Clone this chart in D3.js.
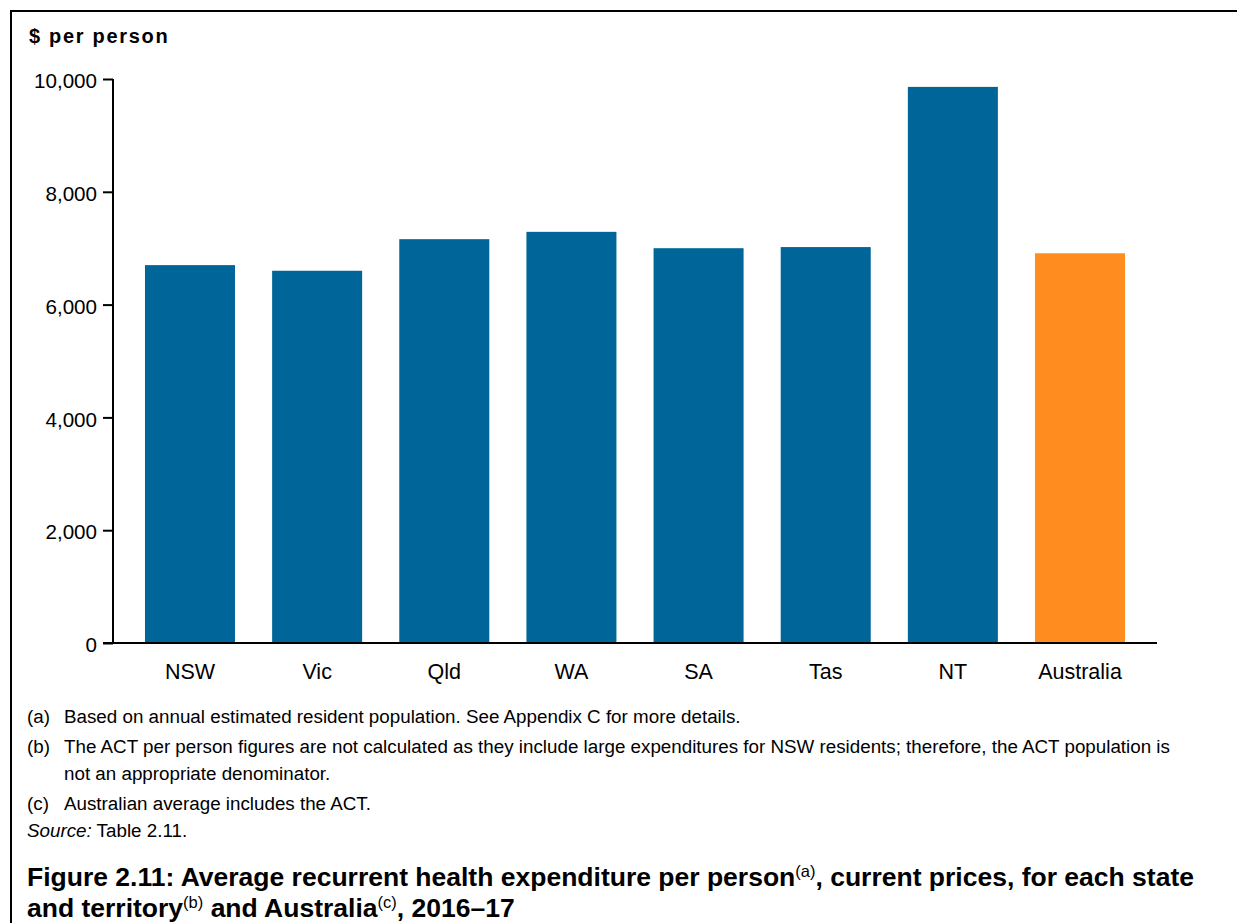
<!DOCTYPE html>
<html><head><meta charset="utf-8">
<script src="https://cdn.jsdelivr.net/npm/d3@7/dist/d3.min.js"></script>
<style>body{margin:0;background:#fff}svg{display:block;font-family:Arial,"Liberation Sans",sans-serif}</style>
</head><body><svg id="c" width="1237" height="923"></svg>
<script>
const categories = ["NSW","Vic","Qld","WA","SA","Tas","NT","Australia"];
const values = [6700,6600,7160,7290,7000,7020,9860,6910];
const yTicks = [0,2000,4000,6000,8000,10000];
const highlight = ["Australia"];
const footnotes = [
  ["(a)", ["Based on annual estimated resident population. See Appendix C for more details."]],
  ["(b)", ["The ACT per person figures are not calculated as they include large expenditures for NSW residents; therefore, the ACT population is","not an appropriate denominator."]],
  ["(c)", ["Australian average includes the ACT."]]
];

const svg = d3.select("#c");
svg.append("rect").attr("x",11).attr("y",11).attr("width",1240).attr("height",930)
  .attr("fill","none").attr("stroke","#000").attr("stroke-width",2);

const x0 = 113, x1 = 1157, yTop = 79, yBot = 643;
const x = d3.scaleBand().domain(categories).range([x0,x1]).paddingInner(0.292).paddingOuter(0.2515);
const y = d3.scaleLinear().domain([0,10000]).range([yBot,yTop]);

svg.append("text").attr("x",29).attr("y",43).attr("font-size",20).attr("font-weight","bold")
  .attr("letter-spacing","1.7px").text("$ per person");

svg.append("g").selectAll("rect").data(categories).join("rect")
  .attr("x",d=>x(d)).attr("width",x.bandwidth())
  .attr("y",(d,i)=>y(values[i])).attr("height",(d,i)=>y(0)-y(values[i]))
  .attr("fill",d=>highlight.includes(d)?"#FF8C1E":"#006699");

const ya = svg.append("g").attr("transform",`translate(${x0},0)`)
  .call(d3.axisLeft(y).tickValues(yTicks).tickSize(10).tickPadding(6).tickFormat(d3.format(",")));
ya.select(".domain").attr("stroke","#000").attr("stroke-width",2).attr("d",`M-0,${yBot}V${yTop}`);
ya.selectAll(".tick line").attr("stroke","#000").attr("stroke-width",2);
ya.selectAll(".tick text").attr("font-size",20.6).attr("fill","#000").attr("dy","0.42em")
  .attr("font-family","Arial,'Liberation Sans',sans-serif");

const xa = svg.append("g").attr("transform",`translate(0,${yBot})`)
  .call(d3.axisBottom(x).tickSize(0).tickPadding(21));
xa.select(".domain").attr("stroke","#000").attr("stroke-width",2).attr("d",`M${x0-10},0H${x1}`);
xa.selectAll(".tick text").attr("font-size",21.5).attr("fill","#000").attr("font-family","Arial,'Liberation Sans',sans-serif");

const fnY = [723, 753, 810];
footnotes.forEach((f,i)=>{
  svg.append("text").attr("x",27).attr("y",fnY[i]).attr("font-size",18.8).text(f[0]);
  f[1].forEach((ln,j)=>{
    svg.append("text").attr("x",64).attr("y",fnY[i]+j*27).attr("font-size",18.8).text(ln);
  });
});
const src = svg.append("text").attr("x",27).attr("y",837).attr("font-size",18.8);
src.append("tspan").attr("font-style","italic").text("Source:");
src.append("tspan").text(" Table 2.11.");

const t1 = svg.append("text").attr("x",27).attr("y",886).attr("font-size",26.5).attr("font-weight","bold");
t1.append("tspan").text("Figure 2.11: Average recurrent health expenditure per person");
t1.append("tspan").attr("font-size",16.5).attr("font-weight","normal").attr("dy",-9).text("(a)");
t1.append("tspan").attr("dy",9).text(", current prices, for each state");
const t2 = svg.append("text").attr("x",27).attr("y",917).attr("font-size",26.5).attr("font-weight","bold");
t2.append("tspan").text("and territory");
t2.append("tspan").attr("font-size",16.5).attr("font-weight","normal").attr("dy",-9).text("(b)");
t2.append("tspan").attr("dy",9).text(" and Australia");
t2.append("tspan").attr("font-size",16.5).attr("font-weight","normal").attr("dy",-9).text("(c)");
t2.append("tspan").attr("dy",9).text(", 2016–17");
</script></body></html>
